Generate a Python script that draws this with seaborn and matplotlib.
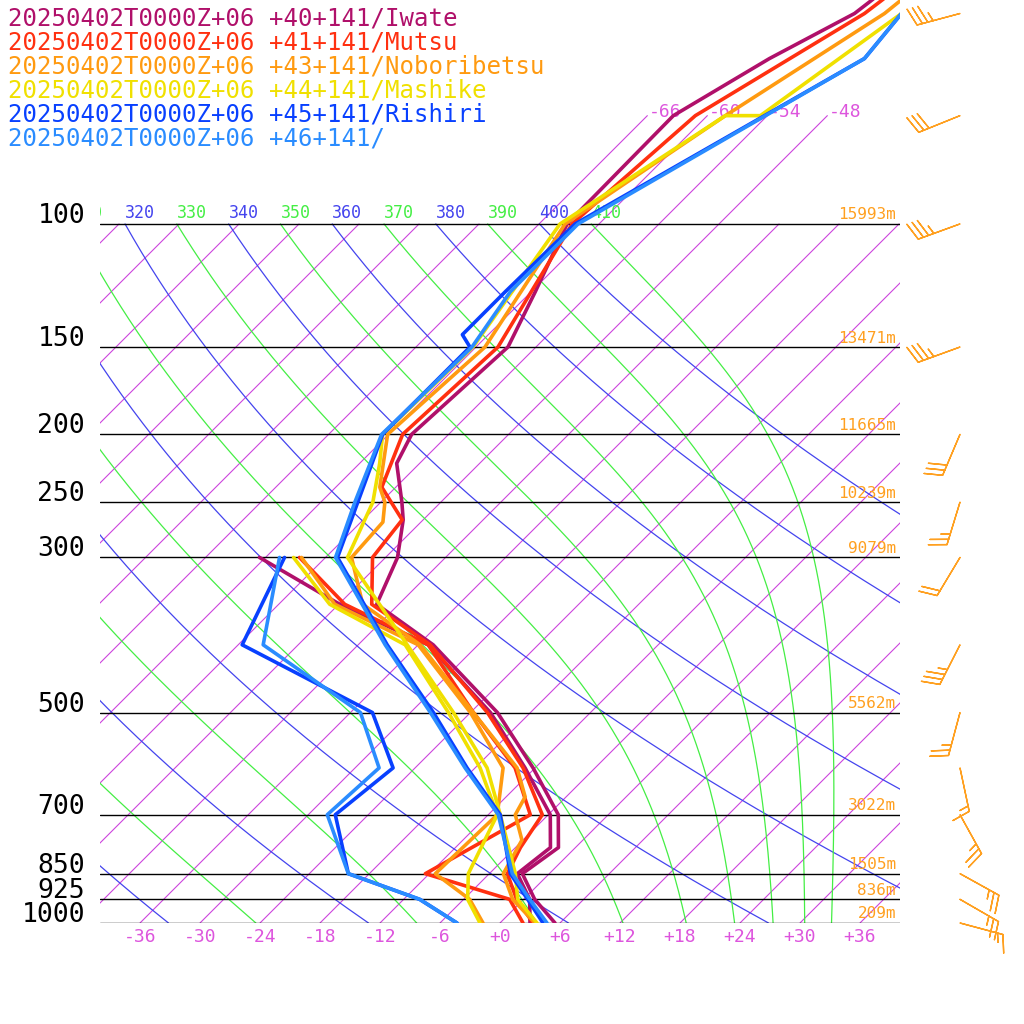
import numpy as np
import pandas as pd
import matplotlib
matplotlib.use("Agg")
import matplotlib.pyplot as plt
import seaborn as sns

sns.set_theme(style="white")
plt.rcParams['font.family'] = ['DejaVu Sans Mono', 'DejaVu Sans']

# ---------------- data ----------------
stations = ["20250402T0000Z+06 +40+141/Iwate", "20250402T0000Z+06 +41+141/Mutsu",
            "20250402T0000Z+06 +43+141/Noboribetsu", "20250402T0000Z+06 +44+141/Mashike",
            "20250402T0000Z+06 +45+141/Rishiri", "20250402T0000Z+06 +46+141/"]
colors = ["#b0106a", "#ff3010", "#ff9a10", "#f0e000", "#0840ff", "#2a8cff"]

iwate_p = [1000, 925, 850, 780, 700, 600, 500, 400, 350, 300, 265, 250, 220, 200, 150, 125, 100, 70, 58, 50, 40]
iwate_t = [5.5, 1.1, -2.7, -1.7, -5.0, -12.2, -21.3, -34.5, -44.2, -46.8, -50.0, -51.9, -56.3, -57.7, -56.8, -59.6, -63.2, -63.4, -59.5, -55.5, -53.5]
iwate_dp = [1000, 925, 850, 780, 700, 600, 500, 400, 350, 300]
iwate_td = [3.0, 0.6, -3.2, -2.5, -5.8, -13.0, -22.0, -35.0, -47.9, -60.6]

mutsu_p = [1000, 925, 850, 780, 700, 600, 500, 400, 350, 300, 265, 238, 200, 150, 100, 70, 50, 40]
mutsu_t = [3.3, -0.7, -4.2, -5.5, -6.6, -13.2, -22.3, -34.8, -44.7, -49.3, -50.1, -55.4, -58.6, -57.8, -62.7, -61.2, -54.5, -52.4]
mutsu_dp = [1000, 925, 850, 700, 600, 500, 400, 350, 300]
mutsu_td = [2.3, -1.4, -12.4, -7.8, -14.0, -23.7, -35.0, -47.4, -56.6]

nobo_p = [1000, 925, 850, 761, 700, 660, 600, 500, 400, 350, 300, 267, 250, 238, 200, 150, 100, 70, 50, 40]
nobo_t = [3.5, -1.1, -4.6, -6.1, -9.3, -10.1, -13.8, -23.7, -35.8, -45.6, -51.4, -51.8, -53.6, -55.6, -60.1, -59.1, -63.4, -58.2, -52.5, -50.9]
nobo_dp = [1000, 925, 850, 700, 600, 500, 400, 350, 300]
nobo_td = [-1.7, -5.4, -11.4, -11.1, -15.2, -24.0, -36.0, -48.4, -56.4]

mash_p = [1000, 925, 850, 700, 600, 500, 400, 300, 250, 220, 200, 150, 100, 70, 70, 50, 40]
mash_t = [3.7, -0.6, -3.4, -10.8, -16.8, -25.7, -37.1, -51.8, -54.8, -58.0, -60.6, -60.3, -63.9, -58.2, -54.7, -50.8, -51.4]
mash_dp = [1000, 925, 850, 700, 600, 500, 400, 350, 300]
mash_td = [-2.0, -5.6, -8.1, -11.1, -17.5, -26.2, -37.3, -48.9, -57.2]

rish_p = [1000, 925, 850, 700, 600, 500, 400, 300, 200, 150, 144, 125, 100, 58, 50, 40]
rish_t = [4.3, 0.4, -3.9, -10.8, -18.8, -27.7, -39.1, -52.8, -60.6, -60.6, -62.6, -62.6, -62.4, -50.0, -50.8, -49.1]
rish_dp = [1000, 925, 850, 700, 600, 500, 400, 300]
rish_td = [-4.3, -10.4, -20.1, -27.3, -26.2, -33.8, -53.6, -58.1]

st46_p = [1000, 925, 850, 700, 600, 500, 400, 300, 250, 200, 150, 125, 100, 58, 50, 40]
st46_t = [4.7, 0.6, -3.7, -11.0, -19.0, -28.0, -39.3, -53.0, -56.6, -60.7, -60.4, -62.1, -62.1, -50.0, -50.8, -49.1]
st46_dp = [1000, 925, 850, 700, 600, 500, 400, 300]
st46_td = [-4.3, -10.4, -20.1, -28.1, -27.6, -35.0, -51.5, -58.6]

profiles = [(iwate_p, iwate_t, iwate_dp, iwate_td), (mutsu_p, mutsu_t, mutsu_dp, mutsu_td),
            (nobo_p, nobo_t, nobo_dp, nobo_td), (mash_p, mash_t, mash_dp, mash_td),
            (rish_p, rish_t, rish_dp, rish_td), (st46_p, st46_t, st46_dp, st46_td)]

isobars = [100, 150, 200, 250, 300, 500, 700, 850, 925, 1000]
heights = ["15993m", "13471m", "11665m", "10239m", "9079m", "5562m", "3022m", "1505m", "836m", "209m"]

wind_p = [50, 70, 100, 150, 200, 250, 300, 400, 500, 600, 700, 850, 925, 1000]
wind_dir = [255, 248, 250, 250, 203, 197, 211, 207, 195, 168, 151, 119, 120, 105]
wind_spd = [35, 30, 35, 35, 30, 25, 20, 35, 25, 15, 25, 25, 25, 15]

# ---------------- coordinates ----------------
K = 30.36
def Yp(p):
    return K * np.log(1000.0 / np.asarray(p, dtype=float))
def Xs(t, p):
    return np.asarray(t, dtype=float) + Yp(p)

fig = plt.figure(figsize=(10.24, 10.24), dpi=100)
ax = fig.add_axes([100/1024, 101/1024, 800/1024, 923/1024])
ax.set_xlim(-40, 40)
ax.set_ylim(0, 92.3)
ax.set_axis_off()

# isotherms
for T in range(-120, 41, 6):
    ptop = 70 if -66 <= T <= -48 else 100
    pl = np.geomspace(1000, ptop, 50)
    ax.plot(Xs(np.full_like(pl, T), pl), Yp(pl), color="#cc44dd", lw=0.8, zorder=1)
    if -66 <= T <= -48:
        ax.text(Xs(T, 70) + 0.2, Yp(70) + 0.4, f"{T}", color="#dd55dd", fontsize=13,
                ha="left", va="center")
for T in range(-36, 37, 6):
    ax.text(T, -1.4, (f"+{T}" if T >= 0 else f"{T}"), color="#dd55dd", fontsize=13,
            ha="center", va="center", clip_on=False)

pp = np.geomspace(1000, 100, 50)
# dry adiabats (blue)
for th in range(200, 401, 20):
    tt = th * (pp / 1000.0) ** 0.2857 - 273.15
    ax.plot(Xs(tt, pp), Yp(pp), color="#4444ee", lw=0.9, zorder=1)

# moist adiabats (green)
Rd, cp, Lv, eps = 287.04, 1005.7, 2.5e6, 0.622
def rs(T, p):
    Tc = T - 273.15
    es = 6.112 * np.exp(17.67 * Tc / (Tc + 243.5))
    return eps * es / (p - es)
for th in range(230, 411, 20):
    T = th * 0.1 ** 0.2857
    ps = np.linspace(100, 1000, 900)
    Ts = [T]
    for i in range(1, len(ps)):
        p0 = ps[i-1]; dp = ps[i] - p0
        r = rs(T, p0)
        dTdp = (Rd * T + Lv * r) / (cp + Lv * Lv * r * eps / (Rd * T * T)) / p0
        T = T + dTdp * dp
        Ts.append(T)
    Ts = np.array(Ts) - 273.15
    ax.plot(Xs(Ts, ps), Yp(ps), color="#44ee44", lw=0.9, zorder=1)

# theta labels
for th in range(310, 411, 10):
    tt = th * 0.1 ** 0.2857 - 273.15
    ax.text(Xs(tt, 100) + 1.5, Yp(100) + 1.1, str(th), color=("#4444ee" if th % 20 == 0 else "#44ee44"),
            fontsize=12, ha="center", va="center", clip_on=True)

# isobars
for p, h in zip(isobars, heights):
    ax.plot([-40, 40], [Yp(p), Yp(p)], color="black", lw=1.0, zorder=2)
    ax.text(-41.5, Yp(p) + 0.8, str(p), fontsize=19, color="black", ha="right", va="center", clip_on=False)
    ax.text(39.6, Yp(p) + 0.9, h, fontsize=11.5, color="#ffa020", ha="right", va="center")

# profiles
for (tp, tv, dpp, dv), c in zip(profiles, colors):
    df_t = pd.DataFrame({"X": Xs(tv, tp), "Y": Yp(tp)})
    df_d = pd.DataFrame({"X": Xs(dv, dpp), "Y": Yp(dpp)})
    sns.lineplot(data=df_d, x="X", y="Y", sort=False, estimator=None, color=c, lw=2.6, ax=ax, zorder=5)
    sns.lineplot(data=df_t, x="X", y="Y", sort=False, estimator=None, color=c, lw=2.6, ax=ax, zorder=5)
ax.set_xlim(-40, 40)
ax.set_ylim(0, 92.3)
ax.set_axis_off()

# wind barbs
wd = np.deg2rad(wind_dir)
u = -np.array(wind_spd) * np.sin(wd)
v = -np.array(wind_spd) * np.cos(wd)
ax.barbs(np.full(len(wind_p), 46.0), Yp(wind_p), u, v, color="#ffa020", length=8,
         linewidth=1.0, clip_on=False, zorder=6)

# legend text
for i, (s, c) in enumerate(zip(stations, colors)):
    fig.text(8/1024, 1 - (18 + 24*i)/1024, s, color=c, fontsize=17.3, ha="left", va="center")

fig.savefig("out.png", dpi=100)
